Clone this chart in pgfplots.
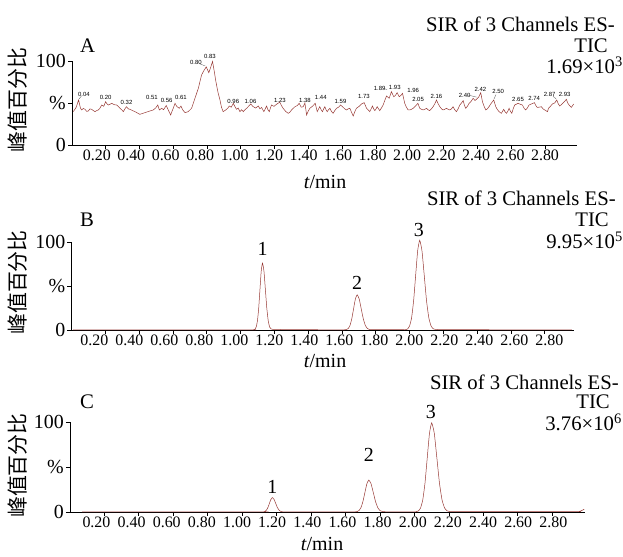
\documentclass[border=0pt]{standalone}
\usepackage{pgfplots}
\pgfplotsset{compat=1.18}
\usepackage{fontspec}
\setmainfont{Liberation Serif}
\newfontfamily\cjk{Noto Sans CJK SC}
\newfontfamily\smallsans{Liberation Sans}
\definecolor{trace}{RGB}{150,55,50}
\pgfplotsset{chromo/.style={
  scale only axis, axis lines=left, axis line style={-, line width=0.8bp},
  xmin=0, ymin=0, ymax=100,
  xtick={0.2,0.4,0.6,0.8,1.0,1.2,1.4,1.6,1.8,2.0,2.2,2.4,2.6,2.8},
  xticklabels={0.20,0.40,0.60,0.80,1.00,1.20,1.40,1.60,1.80,2.00,2.20,2.40,2.60,2.80},
  ytick={0,50,100}, yticklabels={0,\%,100},
  tick align=outside, major tick length=4bp,
  tick style={black, line width=0.8bp},
  xticklabel style={font=\fontsize{16}{16}\selectfont, inner sep=1bp},
  yticklabel style={font=\fontsize{20}{20}\selectfont, inner sep=2bp},
  clip=false,
}}
\newcommand{\tfont}{\fontsize{20}{20}\selectfont}
\newcommand{\hfont}{\fontsize{20.8}{21}\selectfont}
\newcommand{\sfont}{\smallsans\fontsize{6}{6}\selectfont}
\tikzset{pk/.style={font=\sfont, inner sep=0pt}}
\begin{document}
\begin{tikzpicture}
\useasboundingbox (0,0) rectangle (623bp,557bp);
% ---------- Panel A ----------
\begin{axis}[chromo, at={(72bp,412bp)}, anchor=south west, width=505bp, height=84bp, xmax=2.99,
  xticklabel style={xshift={(-9+0.7*\ticknum)*1bp}}]
\addplot[trace, line width=0.5bp] coordinates {
(0.008,39.7)(0.025,45)(0.039,53.6)(0.05,44)(0.057,41.7)(0.067,43.5)(0.077,42.5)(0.087,40)(0.097,40.5)(0.106,43)
(0.116,42.5)(0.126,41)(0.136,39.7)(0.146,41)(0.156,41.7)(0.166,44)(0.176,47.6)(0.188,46)(0.199,51.6)(0.207,49)
(0.215,47.6)(0.225,48.5)(0.235,49.6)(0.25,48)(0.264,47.6)(0.274,46)(0.284,43.7)(0.294,42)(0.304,39.7)(0.313,43)
(0.323,45.6)(0.333,43)(0.343,42.5)(0.358,41)(0.373,39.7)(0.388,38)(0.402,36.5)(0.417,37.5)(0.432,38.5)(0.447,39.5)
(0.462,40.5)(0.481,41.7)(0.495,44)(0.508,47.6)(0.517,41.7)(0.531,43.7)(0.542,42)(0.558,47)(0.570,41.7)(0.584,35.7)
(0.592,40)(0.600,44)(0.610,49.6)(0.620,46)(0.635,43.7)(0.645,46.4)(0.655,42)(0.669,38.5)(0.688,39.7)(0.708,43.7)
(0.728,55.6)(0.748,67.5)(0.767,83.3)(0.782,89)(0.795,93)(0.810,86)(0.822,93)(0.832,99.5)(0.842,88)(0.852,75.4)
(0.864,63)(0.876,53.6)(0.885,45)(0.895,39.7)(0.905,41)(0.915,42.5)(0.923,44)(0.931,46.4)(0.943,45)(0.955,49.6)
(0.964,46)(0.974,42.5)(0.984,44)(0.994,39.7)(1.004,42)(1.014,39.7)(1.024,42)(1.034,43.7)(1.045,46)(1.058,48.8)
(1.073,45.6)(1.088,44)(1.103,46.4)(1.113,43)(1.122,44.8)(1.136,39.7)(1.144,43)(1.152,46.4)(1.16,42)(1.168,39.7)
(1.181,47.6)(1.196,46)(1.211,48.5)(1.230,51)(1.240,47)(1.250,43.7)(1.265,40)(1.280,37.7)(1.290,39)(1.300,41.7)
(1.320,45.6)(1.334,47)(1.345,49.6)(1.357,45)(1.369,45.6)(1.379,50)(1.389,35.7)(1.398,40)(1.408,43.7)(1.423,46)
(1.440,49.6)(1.452,39.7)(1.460,43)(1.467,45.6)(1.475,42)(1.483,39.7)(1.490,43)(1.497,45.6)(1.504,42)(1.511,39.7)
(1.519,42)(1.527,43.7)(1.536,40)(1.546,37.7)(1.556,41)(1.566,43.7)(1.578,45)(1.590,47.6)(1.606,44.8)(1.615,43)
(1.625,41.7)(1.635,43)(1.645,43.7)(1.655,39)(1.665,34.5)(1.675,40)(1.684,43.7)(1.700,46)(1.714,48.8)(1.730,50.4)
(1.744,43.7)(1.753,42)(1.763,39.7)(1.771,43)(1.779,46.4)(1.786,43)(1.793,40.9)(1.800,43)(1.807,45.6)(1.815,43)
(1.822,40.9)(1.832,44)(1.842,47.6)(1.852,53)(1.862,58.3)(1.870,57)(1.878,55.6)(1.891,63.5)(1.905,57.5)(1.915,59)
(1.925,62.3)(1.937,57.5)(1.947,59)(1.957,61.5)(1.964,55)(1.970,49.6)(1.980,45)(1.990,41.7)(2.000,41.7)(2.010,42.5)
(2.020,43.7)(2.032,46)(2.048,49.6)(2.059,43.7)(2.069,42.5)(2.079,41.7)(2.089,42.5)(2.099,43.7)(2.108,42)(2.118,40.9)
(2.128,43)(2.138,45.6)(2.148,49)(2.158,53.6)(2.168,49)(2.178,45.6)(2.188,43)(2.197,41.7)(2.207,42.5)(2.217,43.7)
(2.227,42.5)(2.237,41.7)(2.247,43)(2.256,45.6)(2.266,42)(2.276,39.7)(2.286,43)(2.296,47.6)(2.306,50)(2.316,52.8)
(2.324,47)(2.331,43.7)(2.341,46)(2.351,49.6)(2.363,52)(2.375,55.6)(2.386,53)(2.398,55)(2.408,57)(2.420,62.3)
(2.430,51.6)(2.440,46)(2.450,41.7)(2.459,43)(2.469,45.6)(2.480,49)(2.497,53.6)(2.509,45.6)(2.519,42)(2.529,39.7)
(2.536,38.5)(2.542,37.7)(2.549,40)(2.556,42.5)(2.564,39.5)(2.572,37.7)(2.580,40)(2.588,43.7)(2.596,40)(2.604,37.7)
(2.612,43)(2.621,47.6)(2.641,49.6)(2.654,48.5)(2.667,47.6)(2.676,44)(2.686,41.7)(2.696,44)(2.706,47.6)(2.716,48.5)
(2.738,50.4)(2.746,47)(2.754,44.8)(2.766,45)(2.779,45.6)(2.789,43)(2.799,41.7)(2.815,39.7)(2.822,44)(2.828,45)
(2.845,49)(2.858,50)(2.870,53.6)(2.879,49)(2.888,46.4)(2.897,48)(2.907,50)(2.917,52)(2.927,54.4)(2.935,50)
(2.943,47.6)(2.950,46)(2.957,44.8)(2.970,48.8)
};
\node[pk] at (axis cs:0.071,60.4) {0.04};
\node[pk] at (axis cs:0.199,56.3) {0.20};
\node[pk] at (axis cs:0.323,50.4) {0.32};
\node[pk] at (axis cs:0.473,56.3) {0.51};
\node[pk] at (axis cs:0.560,52.8) {0.56};
\node[pk] at (axis cs:0.645,56.3) {0.61};
\node[pk] at (axis cs:0.734,98) {0.80};
\node[pk] at (axis cs:0.817,105) {0.83};
\node[pk] at (axis cs:0.955,51.6) {0.96};
\node[pk] at (axis cs:1.057,51.6) {1.06};
\node[pk] at (axis cs:1.231,53.6) {1.23};
\node[pk] at (axis cs:1.379,53.6) {1.38};
\node[pk] at (axis cs:1.473,56.3) {1.44};
\node[pk] at (axis cs:1.590,51.6) {1.59};
\node[pk] at (axis cs:1.728,57.5) {1.73};
\node[pk] at (axis cs:1.822,67.5) {1.89};
\node[pk] at (axis cs:1.911,68.3) {1.93};
\node[pk] at (axis cs:2.020,64.7) {1.96};
\node[pk] at (axis cs:2.049,54.4) {2.05};
\node[pk] at (axis cs:2.158,57.5) {2.16};
\node[pk] at (axis cs:2.325,59.5) {2.40};
\node[pk] at (axis cs:2.418,66.7) {2.42};
\node[pk] at (axis cs:2.523,63.5) {2.50};
\node[pk] at (axis cs:2.641,54.8) {2.65};
\node[pk] at (axis cs:2.736,55.6) {2.74};
\node[pk] at (axis cs:2.828,60.7) {2.87};
\node[pk] at (axis cs:2.917,60.7) {2.93};
\draw[black!70, line width=0.3bp] (axis cs:0.752,97) -- (axis cs:0.790,94);
\draw[black!70, line width=0.3bp] (axis cs:1.842,67.5) -- (axis cs:1.865,66);
\draw[black!70, line width=0.3bp] (axis cs:2.345,59.5) -- (axis cs:2.395,57);
\draw[black!70, line width=0.3bp] (axis cs:2.510,60) -- (axis cs:2.499,55);
\draw[black!70, line width=0.3bp] (axis cs:2.848,58) -- (axis cs:2.866,55);
\draw[black!70, line width=0.3bp] (axis cs:0.055,58) -- (axis cs:0.042,55);
\end{axis}
% ---------- Panel B ----------
\begin{axis}[chromo, at={(71.5bp,227bp)}, anchor=south west, width=502bp, height=88bp, xmax=2.97,
  xticklabel style={xshift={(-11+1.2*\ticknum)*1bp}}]
\addplot[trace, line width=0.5bp, smooth, tension=0.3] coordinates {
(0.01,0.2)(1.05,0.2)(1.07,0.2)(1.0775,0.3)(1.085,0.8)(1.0925,3.3)(1.10,10.3)(1.1075,24.7)(1.115,46.1)(1.1225,67.1)
(1.13,76)(1.1385,67.1)(1.147,46.1)(1.1555,24.7)(1.164,10.3)(1.1725,3.3)(1.181,1.2)(1.19,0.8)(1.21,0.6)(1.3,0.5)
(1.4,0.4)(1.5,0.2)(1.61,0.2)(1.6165,0.3)(1.627,0.5)(1.6375,1.76)(1.648,5.4)(1.6585,13)(1.669,24.3)(1.6795,35.3)
(1.69,40)(1.702,35.3)(1.714,24.3)(1.726,13)(1.738,5.4)(1.75,1.8)(1.762,0.6)(1.774,0.4)(1.8,0.3)(1.96,0.3)
(1.976,0.3)(1.988,1.1)(2.0,4.5)(2.012,13.8)(2.024,33.1)(2.036,61.9)(2.048,90)(2.06,102)(2.0735,90)(2.087,61.9)
(2.1005,33.1)(2.114,13.8)(2.1275,4.5)(2.141,1.3)(2.155,0.6)(2.2,0.5)(2.45,0.4)(2.5,0.2)(2.96,0.2)
};
\node[font=\tfont] at (axis cs:1.13,92) {1};
\node[font=\tfont] at (axis cs:1.69,53) {2};
\node[font=\tfont] at (axis cs:2.055,114) {3};
\end{axis}
% ---------- Panel C ----------
\begin{axis}[chromo, at={(70bp,45bp)}, anchor=south west, width=515bp, height=90bp, xmax=2.99,
  xticklabel style={xshift={(-8+0.7*\ticknum)*1bp}}]
\addplot[trace, line width=0.5bp, smooth, tension=0.3] coordinates {
(0.07,0.2)(1.115,0.2)(1.124,0.2)(1.1325,0.7)(1.141,2.2)(1.1495,5.2)(1.158,9.7)(1.1665,14.1)(1.175,16)(1.1845,14.1)
(1.194,9.7)(1.2035,5.2)(1.213,2.2)(1.2225,0.7)(1.232,0.3)(1.25,0.2)(1.645,0.2)(1.6545,0.2)(1.666,0.4)(1.6775,1.56)
(1.689,4.8)(1.7005,11.5)(1.712,21.5)(1.7235,31.3)(1.735,35.5)(1.748,31.3)(1.761,21.5)(1.774,11.5)(1.787,4.8)(1.80,1.56)
(1.813,0.5)(1.826,0.3)(1.85,0.2)(2.0,0.2)(2.009,0.3)(2.022,1.1)(2.035,4.35)(2.048,13.4)(2.061,32.1)(2.074,60)
(2.087,87.4)(2.10,99)(2.115,87.4)(2.13,60)(2.145,32.1)(2.16,13.4)(2.175,4.35)(2.19,1.2)(2.205,0.5)(2.25,0.3)
(2.5,0.3)(2.94,0.3)(2.96,0.8)(2.975,2)(2.985,3)
};
\node[font=\tfont] at (axis cs:1.175,28) {1};
\node[font=\tfont] at (axis cs:1.735,63) {2};
\node[font=\tfont] at (axis cs:2.095,111) {3};
\end{axis}
% ---------- texts ----------
\node[rotate=90, font=\cjk\fontsize{21}{21}\selectfont, inner sep=0pt] at (18bp,457bp) {峰值百分比};
\node[rotate=90, font=\cjk\fontsize{21}{21}\selectfont, inner sep=0pt] at (18bp,274.5bp) {峰值百分比};
\node[rotate=90, font=\cjk\fontsize{21}{21}\selectfont, inner sep=0pt] at (18bp,91.4bp) {峰值百分比};
% titles
\node[anchor=base east, font=\hfont, inner sep=0pt] at (615bp,525bp) {SIR of 3 Channels ES-};
\node[anchor=base east, font=\hfont, inner sep=0pt] at (608bp,504bp) {TIC};
\node[anchor=base east, font=\hfont, inner sep=0pt] at (623bp,483bp) {1.69×10\textsuperscript{3}};
\node[anchor=base west, font=\hfont, inner sep=0pt] at (80bp,504bp) {A};
\node[anchor=base east, font=\hfont, inner sep=0pt] at (616bp,351bp) {SIR of 3 Channels ES-};
\node[anchor=base east, font=\hfont, inner sep=0pt] at (609bp,330bp) {TIC};
\node[anchor=base east, font=\hfont, inner sep=0pt] at (623bp,308bp) {9.95×10\textsuperscript{5}};
\node[anchor=base west, font=\hfont, inner sep=0pt] at (80bp,330bp) {B};
\node[anchor=base east, font=\hfont, inner sep=0pt] at (619bp,167bp) {SIR of 3 Channels ES-};
\node[anchor=base east, font=\hfont, inner sep=0pt] at (610bp,148bp) {TIC};
\node[anchor=base east, font=\hfont, inner sep=0pt] at (622bp,126bp) {3.76×10\textsuperscript{6}};
\node[anchor=base west, font=\hfont, inner sep=0pt] at (80bp,148bp) {C};
% x labels
\node[anchor=base, font=\tfont, inner sep=0pt] at (325bp,368bp) {\textit{t}/min};
\node[anchor=base, font=\tfont, inner sep=0pt] at (325bp,189bp) {\textit{t}/min};
\node[anchor=base, font=\tfont, inner sep=0pt] at (322bp,7bp) {\textit{t}/min};
\end{tikzpicture}
\end{document}
